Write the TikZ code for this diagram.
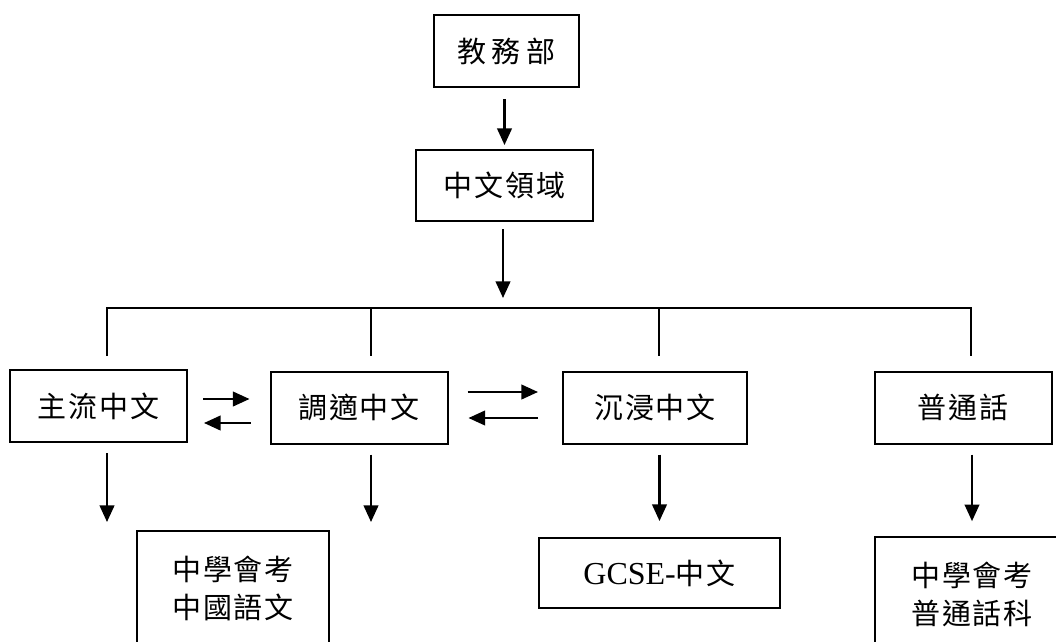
\documentclass[tikz,border=0pt]{standalone}
\usepackage{fontspec}
\setmainfont{Liberation Serif}
\newfontfamily\cjk[LetterSpace=6]{Noto Sans CJK TC}
\newfontfamily\cjkwide[LetterSpace=20]{Noto Sans CJK TC}
\usetikzlibrary{arrows.meta}

\begin{document}
\begin{tikzpicture}[x=0.75pt,y=-0.75pt,
  box/.style={draw=black,line width=1.5pt,inner sep=0pt,align=center,
    font=\cjk\fontsize{21.75pt}{28.5pt}\selectfont},
  unit/.style={box,minimum width=132.75pt,minimum height=54pt},
  exam/.style={box,minimum width=144pt,minimum height=86pt},
  conn/.style={line width=1.6pt},
  arr/.style={conn,-{Triangle[length=12.5pt,width=11pt]}}]
\useasboundingbox (0,0) rectangle (1056,642);
\clip (0,0) rectangle (1056,642);
\node[box,minimum width=108.75pt,minimum height=54pt,
  font=\cjkwide\fontsize{21.75pt}{28.5pt}\selectfont] (office) at (506.5,51) {教務部};
\node[unit,minimum height=53.25pt] (field) at (504.5,185.5) {中文領域};
\node[unit] (mainstream) at (98.5,406) {主流中文};
\node[unit] (adapted) at (359,407.5) {調適中文};
\node[unit,minimum width=138pt] (immersion) at (655,407.5) {沉浸中文};
\node[unit] (putonghua) at (963,407.5) {普通話};
\node[exam] (hkceechi) at (233,588.5) {中學會考\\中國語文};
\node[box,minimum width=180.75pt,minimum height=52.5pt,
  font=\fontsize{24pt}{28.5pt}\selectfont] (gcse) at (659.5,573) {GCSE-{\cjk\fontsize{21.75pt}{28.5pt}\selectfont 中文}};
\node[exam,minimum width=145.5pt] (hkceeptn) at (972,594.5) {中學會考\\普通話科};
\coordinate (bar) at (503,308);
\coordinate (d1) at (107,308);
\coordinate (d2) at (371,308);
\coordinate (d3) at (659,308);
\coordinate (d4) at (971,308);
\coordinate (t1) at (107,356);
\coordinate (t2) at (371,356);
\coordinate (t3) at (659,356);
\coordinate (t4) at (971,356);
\coordinate (e1) at (107,522);
\coordinate (e2) at (371,522);
\draw[arr,shorten <=8.25pt,shorten >=3pt] (office.south -| field.north) -- (field.north);
\draw[arr,shorten <=5.25pt,shorten >=7.5pt] (field.south -| bar) -- (bar);
\draw[conn] (t1) -- (d1) -- (d4) -- (t4);
\draw[conn] (d2) -- (t2);
\draw[conn] (d3) -- (t3);
\draw[arr,shorten <=11.25pt,shorten >=15pt] (mainstream.east |- 0,399) -- (adapted.west |- 0,399);
\draw[arr,shorten <=14.25pt,shorten >=12pt] (adapted.west |- 0,423) -- (mainstream.east |- 0,423);
\draw[arr,shorten <=14.25pt,shorten >=18pt] (adapted.east |- 0,392) -- (immersion.west |- 0,392);
\draw[arr,shorten <=18pt,shorten >=15pt] (immersion.west |- 0,418) -- (adapted.east |- 0,418);
\draw[arr,shorten <=7.5pt] (mainstream.south -| e1) -- (e1);
\draw[arr,shorten <=7.5pt] (adapted.south -| e2) -- (e2);
\draw[arr,shorten <=7.5pt,shorten >=12pt] (immersion.south -| gcse.north) -- (gcse.north);
\draw[arr,shorten <=7.5pt,shorten >=11.25pt] (putonghua.south -| hkceeptn.north) -- (hkceeptn.north);
\end{tikzpicture}
\end{document}
